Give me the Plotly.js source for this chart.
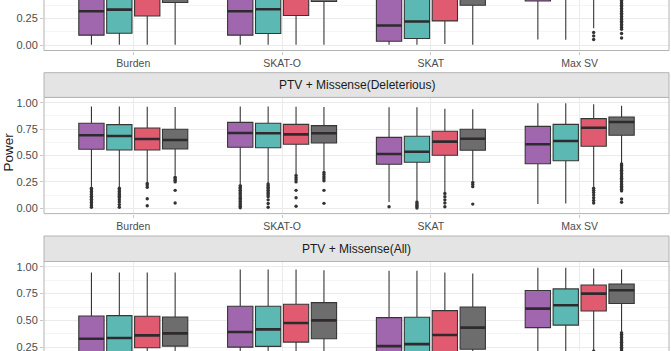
<!DOCTYPE html>
<html>
<head>
<meta charset="utf-8">
<script src="https://cdn.plot.ly/plotly-3.0.1.min.js"></script>
<style>html,body{margin:0;padding:0;background:#fff;}#chart{width:671px;height:351px;}</style>
</head>
<body>
<div id="chart"></div>
<script>
// ---------- data (rows = group 1..4 (purple, teal, red, gray), cols = methods) ----------
const methods = ['Burden', 'SKAT-O', 'SKAT', 'Max SV'];
const panels = ['PTV', 'PTV + Missense(Deleterious)', 'PTV + Missense(All)'];
const yTickVals = [0, 0.25, 0.5, 0.75, 1];
const yTickText = ['0.00', '0.25', '0.50', '0.75', '1.00'];

// Panel 1 (top, partially visible)
const p1_q1  = [[0.094,0.094,0.037,0.415],[0.112,0.110,0.062,0.450],[0.274,0.278,0.228,0.580],[0.400,0.410,0.375,0.660]];
const p1_med = [[0.318,0.318,0.184,0.620],[0.334,0.337,0.222,0.660],[0.520,0.520,0.450,0.760],[0.580,0.580,0.550,0.800]];
const p1_q3  = [[0.620,0.620,0.480,0.780],[0.640,0.640,0.520,0.800],[0.720,0.720,0.660,0.860],[0.740,0.740,0.700,0.880]];
const p1_lo  = [[0.005,0.005,0.005,0.053],[0.005,0.005,0.005,0.050],[0.005,0.005,0.010,0.160],[0.005,0.005,0.005,0.450]];
const p1_hi  = [[0.970,0.970,0.950,0.990],[0.970,0.970,0.950,0.990],[0.970,0.970,0.950,0.990],[0.970,0.970,0.950,0.980]];
const p1_out = [
  [[],[],[],[]],
  [[],[],[],[]],
  [[],[],[],[0.12,0.087,0.053]],
  [[],[],[],[0.42,0.405,0.39,0.375,0.36,0.345,0.33,0.315,0.30,0.285,0.27,0.255,0.24,0.225,0.21,0.195,0.18,0.165,0.15,0.11,0.068]]
];

// Panel 2: PTV + Missense(Deleterious)
const p2_q1  = [[0.559,0.578,0.417,0.422],[0.552,0.574,0.436,0.451],[0.552,0.606,0.502,0.587],[0.561,0.618,0.549,0.691]];
const p2_med = [[0.691,0.713,0.514,0.606],[0.685,0.710,0.536,0.637],[0.656,0.700,0.631,0.763],[0.647,0.710,0.659,0.817]];
const p2_q3  = [[0.805,0.814,0.672,0.776],[0.792,0.805,0.682,0.795],[0.760,0.795,0.729,0.849],[0.748,0.783,0.748,0.865]];
const p2_lo  = [[0.205,0.225,0.060,0.040],[0.200,0.240,0.075,0.045],[0.250,0.320,0.155,0.205],[0.310,0.355,0.260,0.430]];
const p2_hi  = [[0.963,0.963,0.956,0.994],[0.963,0.963,0.956,0.994],[0.962,0.962,0.943,0.985],[0.960,0.960,0.937,0.972]];
const p2_out = [
  [[0.19,0.175,0.16,0.145,0.13,0.115,0.10,0.085,0.07,0.055,0.04,0.025,0.01],
   [0.215,0.20,0.185,0.17,0.155,0.14,0.125,0.11,0.095,0.08,0.065,0.05,0.035,0.02,0.005],
   [0.015],
   []],
  [[0.19,0.175,0.16,0.145,0.13,0.115,0.10,0.08,0.06,0.035,0.01],
   [0.23,0.215,0.20,0.185,0.17,0.155,0.14,0.125,0.11,0.08,0.045,0.01],
   [0.06,0.045,0.03,0.015,0.003],
   []],
  [[0.235,0.22,0.20,0.09,0.025],
   [0.31,0.29,0.27,0.25,0.17,0.10,0.02],
   [0.14,0.11,0.08,0.05,0.015],
   [0.19,0.17,0.15,0.125,0.10,0.075,0.05]],
  [[0.295,0.28,0.265,0.25,0.17,0.05],
   [0.34,0.32,0.30,0.28,0.26,0.17,0.047],
   [0.245,0.225,0.205,0.04],
   [0.42,0.405,0.39,0.375,0.36,0.345,0.33,0.315,0.30,0.285,0.27,0.255,0.24,0.225,0.21,0.195,0.18,0.165,0.088,0.057]]
];

// Panel 3: PTV + Missense(All) (partially visible)
const p3_q1  = [[0.100,0.250,0.090,0.432],[0.110,0.257,0.100,0.456],[0.245,0.297,0.150,0.588],[0.260,0.329,0.231,0.657]];
const p3_med = [[0.329,0.391,0.260,0.610],[0.335,0.416,0.278,0.641],[0.360,0.475,0.363,0.750],[0.379,0.500,0.432,0.782]];
const p3_q3  = [[0.541,0.632,0.526,0.779],[0.544,0.632,0.529,0.794],[0.538,0.650,0.591,0.831],[0.531,0.666,0.625,0.840]];
const p3_lo  = [[0.005,0.005,0.005,0.030],[0.005,0.005,0.005,0.030],[0.005,0.005,0.005,0.220],[0.005,0.005,0.005,0.400]];
const p3_hi  = [[0.948,0.975,0.963,0.991],[0.948,0.975,0.963,0.991],[0.948,0.975,0.948,0.985],[0.948,0.969,0.938,0.975]];
const p3_out = [
  [[],[],[],[]],
  [[],[],[],[]],
  [[],[],[],[0.212]],
  [[],[],[],[0.385,0.37,0.355,0.34,0.325,0.31,0.295,0.28,0.265,0.25,0.235,0.22]]
];

// ---------- styling ----------
const fills = ['#a067ae', '#5cb8b3', '#e05b70', '#6d6d6d'];
const outline = '#363636';
const FONT = 'Liberation Sans, Arial, Helvetica, sans-serif';
const dodge = 0.1875, boxW = 0.17;

const panelData = [
  {q1:p1_q1, med:p1_med, q3:p1_q3, lo:p1_lo, hi:p1_hi, out:p1_out},
  {q1:p2_q1, med:p2_med, q3:p2_q3, lo:p2_lo, hi:p2_hi, out:p2_out},
  {q1:p3_q1, med:p3_med, q3:p3_q3, lo:p3_lo, hi:p3_hi, out:p3_out}
];

// pixel layout of the panels (top px, bottom px) and their visible value ranges
const H = 351;
const panelPx = [[0, 50.5], [97.4, 213.6], [261.5, 351]];
const yRanges = [[-0.05, 0.424], [-0.05, 1.05], [0.214, 1.05]];
const stripPx = [null, [72.7, 97.4], [236, 261.5]];

const traces = [];
panelData.forEach((P, pi) => {
  const xa = pi === 0 ? 'x' : 'x' + (pi + 1);
  const ya = pi === 0 ? 'y' : 'y' + (pi + 1);
  for (let g = 0; g < 4; g++) {
    const pos = methods.map((m, mi) => (mi + 1) + (g - 1.5) * dodge);
    traces.push({
      type: 'box', xaxis: xa, yaxis: ya, x: pos,
      q1: P.q1[g], median: P.med[g], q3: P.q3[g], lowerfence: P.lo[g], upperfence: P.hi[g],
      width: boxW, whiskerwidth: 0, boxpoints: false,
      fillcolor: fills[g], line: {color: outline, width: 1.1},
      showlegend: false, hoverinfo: 'skip'
    });
    // medians (thicker line like ggplot)
    const mx = [], my = [];
    pos.forEach((p, mi) => { mx.push(p - boxW / 2, p + boxW / 2, null); my.push(P.med[g][mi], P.med[g][mi], null); });
    traces.push({type: 'scatter', mode: 'lines', xaxis: xa, yaxis: ya, x: mx, y: my,
      line: {color: '#2e2a2e', width: 2.6}, showlegend: false, hoverinfo: 'skip'});
    // outliers
    const ox = [], oy = [];
    pos.forEach((p, mi) => { P.out[g][mi].forEach(v => { ox.push(p); oy.push(v); }); });
    if (ox.length) traces.push({type: 'scatter', mode: 'markers', xaxis: xa, yaxis: ya, x: ox, y: oy,
      marker: {color: '#333333', size: 3.4}, showlegend: false, hoverinfo: 'skip', cliponaxis: true});
  }
});

const layout = {
  width: 671, height: 351,
  margin: {l: 44, r: 2, t: 0, b: 0, pad: 0},
  paper_bgcolor: '#ffffff', plot_bgcolor: '#ffffff',
  font: {family: FONT, color: '#4d4d4d'},
  showlegend: false,
  shapes: [], annotations: []
};

for (let pi = 0; pi < 3; pi++) {
  const sfx = pi === 0 ? '' : String(pi + 1);
  const dom = [1 - panelPx[pi][1] / H, 1 - panelPx[pi][0] / H];
  layout['xaxis' + sfx] = {
    domain: [0, 1], range: [0.4, 4.6], anchor: 'y' + sfx,
    tickmode: 'array', tickvals: [1, 2, 3, 4], ticktext: methods,
    showticklabels: pi !== 2,
    showgrid: true, gridcolor: '#ebebeb', gridwidth: 1, zeroline: false, showline: false,
    ticks: pi !== 2 ? 'outside' : '', ticklen: 3, tickcolor: '#c8c8c8',
    tickfont: {family: FONT, size: 10.5, color: '#4d4d4d'}, fixedrange: true
  };
  layout['yaxis' + sfx] = {
    domain: dom, range: yRanges[pi], anchor: 'x' + sfx,
    tickmode: 'array', tickvals: yTickVals, ticktext: yTickText,
    ticklabeloverflow: 'allow',
    showgrid: true, gridcolor: '#ebebeb', gridwidth: 1, zeroline: false, showline: false,
    minor: {tickmode: 'array', tickvals: [0.125, 0.375, 0.625, 0.875], showgrid: true, gridcolor: '#f5f5f5', gridwidth: 1, ticks: ''},
    ticks: 'outside', ticklen: 3, tickcolor: '#c8c8c8',
    tickfont: {family: FONT, size: 11, color: '#4d4d4d'}, fixedrange: true
  };
  // panel border (cut edges pushed off the canvas)
  const yb = pi === 2 ? -0.05 : dom[0];
  const yt = pi === 0 ? 1.05 : dom[1];
  layout.shapes.push({type: 'rect', xref: 'paper', yref: 'paper', x0: 0, x1: 1, y0: yb, y1: yt,
    line: {color: '#b3b3b3', width: 1}, fillcolor: 'rgba(0,0,0,0)', layer: 'above'});
  if (stripPx[pi]) {
    const s0 = 1 - stripPx[pi][1] / H, s1 = 1 - stripPx[pi][0] / H;
    layout.shapes.push({type: 'rect', xref: 'paper', yref: 'paper', x0: 0, x1: 1, y0: s0, y1: s1,
      line: {color: '#b3b3b3', width: 1}, fillcolor: '#e4e4e4', layer: 'above'});
    layout.annotations.push({xref: 'paper', yref: 'paper', x: 0.5, y: (s0 + s1) / 2,
      xanchor: 'center', yanchor: 'middle', showarrow: false, text: panels[pi],
      font: {family: FONT, size: 12, color: '#1a1a1a'}});
  }
}

layout.annotations.push({xref: 'paper', yref: 'paper', x: (8 - 44) / 625, y: 1 - 152.5 / H,
  xanchor: 'center', yanchor: 'middle', showarrow: false, text: 'Power', textangle: -90,
  font: {family: FONT, size: 13.5, color: '#1a1a1a'}});

Plotly.newPlot('chart', traces, layout, {displayModeBar: false, staticPlot: true});
</script>
</body>
</html>
